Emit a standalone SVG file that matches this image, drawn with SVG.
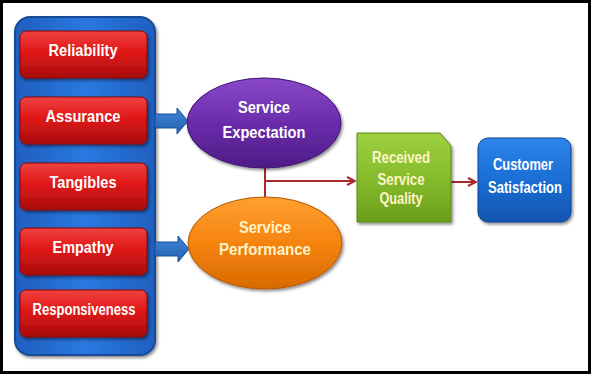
<svg xmlns="http://www.w3.org/2000/svg" width="592" height="375" viewBox="0 0 592 375">
<defs>
<linearGradient id="gBlue" x1="0" y1="0" x2="1" y2="0">
<stop offset="0" stop-color="#1f5fc0"/><stop offset="0.5" stop-color="#2a78e0"/><stop offset="1" stop-color="#1f5fc0"/>
</linearGradient>
<linearGradient id="gRed" x1="0" y1="0" x2="0" y2="1">
<stop offset="0" stop-color="#f04040"/><stop offset="0.45" stop-color="#e01818"/><stop offset="1" stop-color="#a80c0c"/>
</linearGradient>
<linearGradient id="gPurple" x1="0" y1="0" x2="0" y2="1">
<stop offset="0" stop-color="#8a48c8"/><stop offset="0.5" stop-color="#6a2cab"/><stop offset="1" stop-color="#4e1c86"/>
</linearGradient>
<linearGradient id="gOrange" x1="0" y1="0" x2="0" y2="1">
<stop offset="0" stop-color="#ffa030"/><stop offset="0.5" stop-color="#f58410"/><stop offset="1" stop-color="#d86a00"/>
</linearGradient>
<linearGradient id="gGreen" x1="0" y1="0" x2="0" y2="1">
<stop offset="0" stop-color="#9ed040"/><stop offset="0.5" stop-color="#86bc2c"/><stop offset="1" stop-color="#6a9e1c"/>
</linearGradient>
<linearGradient id="gCust" x1="0" y1="0" x2="0" y2="1">
<stop offset="0" stop-color="#2c86e8"/><stop offset="0.5" stop-color="#1a6ed6"/><stop offset="1" stop-color="#1254b0"/>
</linearGradient>
<linearGradient id="gArrow" x1="0" y1="0" x2="0" y2="1">
<stop offset="0" stop-color="#3e86d8"/><stop offset="1" stop-color="#2560b0"/>
</linearGradient>
<filter id="sh" x="-10%" y="-10%" width="130%" height="130%">
<feDropShadow dx="1.5" dy="2" stdDeviation="1.5" flood-color="#000" flood-opacity="0.45"/>
</filter>
<marker id="chev" viewBox="0 0 10 10" refX="9" refY="5" markerWidth="10" markerHeight="10" markerUnits="userSpaceOnUse" orient="auto">
<path d="M1,1 L9,5 L1,9" fill="none" stroke="#a8282c" stroke-width="2"/>
</marker>
<style>
.lbl{font-family:"Liberation Sans",Arial,sans-serif;font-weight:bold;font-size:16px;fill:#fff;text-anchor:middle}
.cream{fill:#fff4c8}
.red{fill:url(#gRed);stroke:#8a0a0a;stroke-width:1;filter:url(#sh)}
.conn{fill:none;stroke:#a8282c;stroke-width:2}
.barrow{fill:url(#gArrow);stroke:#1c4f96;stroke-width:1}
</style>
</defs>
<rect x="0" y="0" width="592" height="375" fill="#fff"/>
<rect x="1.5" y="1.5" width="588" height="371" fill="none" stroke="#000" stroke-width="3"/>

<g id="container">
<rect x="15" y="17" width="140" height="338" rx="15" fill="url(#gBlue)" stroke="#174a96" stroke-width="2" filter="url(#sh)"/>
</g>
<g id="reliability"><rect class="red" x="20" y="31" width="127" height="47" rx="6"/><text class="lbl" x="83" y="56" textLength="69" lengthAdjust="spacingAndGlyphs">Reliability</text></g>
<g id="assurance"><rect class="red" x="20" y="97" width="127" height="47" rx="6"/><text class="lbl" x="83" y="122" textLength="75" lengthAdjust="spacingAndGlyphs">Assurance</text></g>
<g id="tangibles"><rect class="red" x="20" y="163" width="127" height="47" rx="6"/><text class="lbl" x="83" y="188" textLength="67" lengthAdjust="spacingAndGlyphs">Tangibles</text></g>
<g id="empathy"><rect class="red" x="20" y="228" width="127" height="47" rx="6"/><text class="lbl" x="83" y="253" textLength="61" lengthAdjust="spacingAndGlyphs">Empathy</text></g>
<g id="responsiveness"><rect class="red" x="20" y="290" width="127" height="47" rx="6"/><text class="lbl" x="84" y="315" textLength="103" lengthAdjust="spacingAndGlyphs">Responsiveness</text></g>

<g id="connectors">
<path class="barrow" d="M155,114 H177 V108 L188,121 L177,134 V128 H155 Z"/>
<path class="barrow" d="M155,242 H178 V236 L189,249 L178,262 V256 H155 Z"/>
<path class="conn" d="M265,168 V197"/>
<path class="conn" d="M265,181 H355" marker-end="url(#chev)"/>
<path class="conn" d="M451,182 H476" marker-end="url(#chev)"/>
</g>

<g id="expectation">
<ellipse cx="264" cy="123" rx="77" ry="45" fill="url(#gPurple)" stroke="#3e1470" stroke-width="1" filter="url(#sh)"/>
<text class="lbl" x="264" y="113" textLength="52" lengthAdjust="spacingAndGlyphs">Service</text>
<text class="lbl" x="264" y="138" textLength="83" lengthAdjust="spacingAndGlyphs">Expectation</text>
</g>
<g id="performance">
<ellipse cx="265" cy="243" rx="77" ry="46" fill="url(#gOrange)" stroke="#b85800" stroke-width="1" filter="url(#sh)"/>
<text class="lbl cream" x="265" y="233" textLength="52" lengthAdjust="spacingAndGlyphs">Service</text>
<text class="lbl cream" x="265" y="255" textLength="92" lengthAdjust="spacingAndGlyphs">Performance</text>
</g>
<g id="quality">
<path d="M357,133 H440 L451,146 V222 H357 Z" fill="url(#gGreen)" stroke="#5a8a18" stroke-width="1" filter="url(#sh)"/>
<text class="lbl cream" x="401" y="163" textLength="58" lengthAdjust="spacingAndGlyphs">Received</text>
<text class="lbl cream" x="401" y="185" textLength="47" lengthAdjust="spacingAndGlyphs">Service</text>
<text class="lbl cream" x="401" y="204" textLength="43" lengthAdjust="spacingAndGlyphs">Quality</text>
</g>
<g id="satisfaction">
<rect x="478" y="138" width="93" height="84" rx="10" fill="url(#gCust)" stroke="#0e4596" stroke-width="1" filter="url(#sh)"/>
<text class="lbl" x="523" y="170" textLength="60" lengthAdjust="spacingAndGlyphs">Customer</text>
<text class="lbl" x="525" y="193" textLength="74" lengthAdjust="spacingAndGlyphs">Satisfaction</text>
</g>
</svg>
